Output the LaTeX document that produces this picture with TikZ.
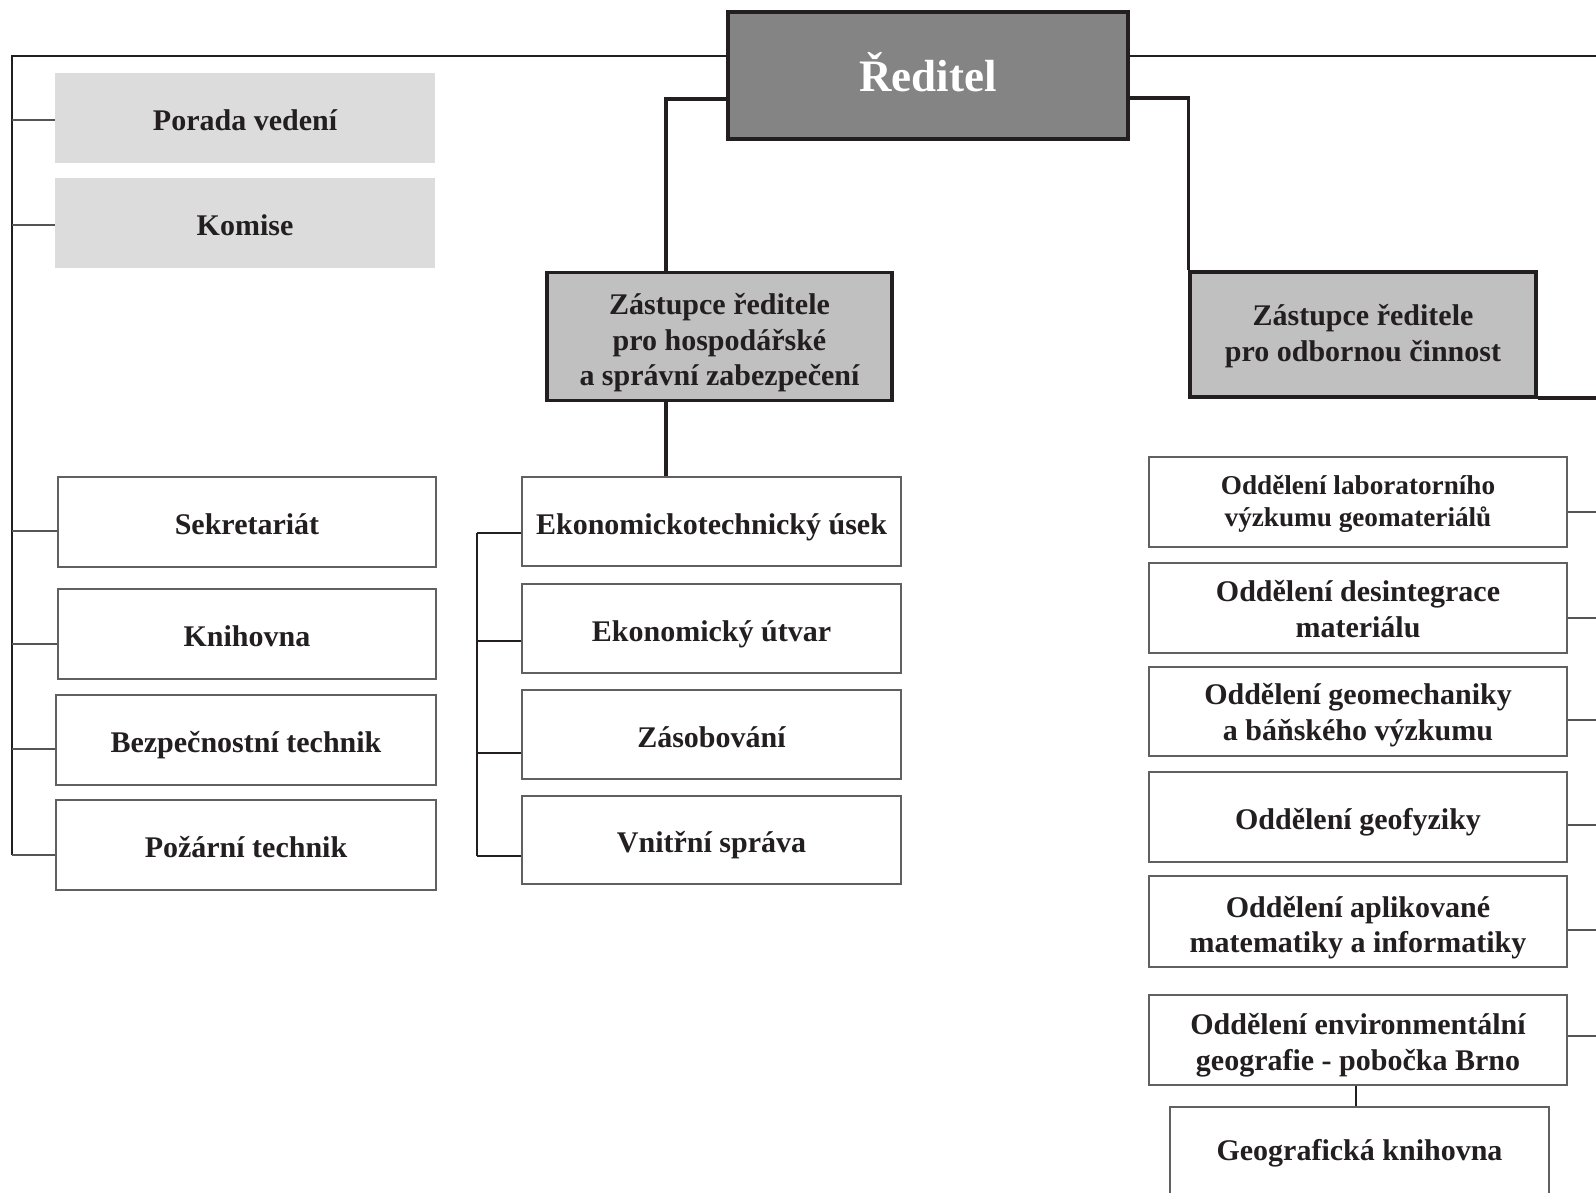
\documentclass[tikz,border=0pt]{standalone}
\usepackage{fontspec}
\setmainfont{Liberation Serif}
\definecolor{linec}{HTML}{231F20}
\definecolor{stubc}{HTML}{555555}
\definecolor{unitc}{HTML}{606060}
\definecolor{headc}{HTML}{848484}
\definecolor{depc}{HTML}{C0C0C0}
\definecolor{councilc}{HTML}{DCDCDC}
\begin{document}
\begin{tikzpicture}[x=0.5pt,y=-0.5pt,
  wh/.style 2 args={minimum width=#1*0.5pt, minimum height=#2*0.5pt},
  struts/.style 2 args={execute at begin node={\rule{0pt}{#1pt}},
    execute at end node={\rule[-#2pt]{0pt}{#2pt}}},
  basebox/.style={inner sep=0pt, align=center, text=linec, anchor=center},
  txt/.style={font=\bfseries\fontsize{15}{17.8}\selectfont, struts={16}{3.5}},
  multi/.style={struts={#1}{3.5}},
  txtsmall/.style={font=\bfseries\fontsize{13.6}{15.9}\selectfont},
  headbox/.style={basebox, fill=headc, draw=linec, line width=1.7pt, text=white,
    font=\bfseries\fontsize{22.5}{26}\selectfont, struts={22}{6}},
  depbox/.style={basebox, txt, fill=depc, draw=linec, line width=1.6pt},
  councilbox/.style={basebox, txt, fill=councilc, draw=none},
  unitbox/.style={basebox, txt, fill=white, draw=unitc, line width=0.85pt},
  mainline/.style={draw=linec, line width=1.2pt},
  depline/.style={draw=linec, line width=1.7pt},
  midline/.style={draw=linec, line width=0.85pt},
  stubline/.style={draw=stubc, line width=0.8pt}]
\clip (0,0) rectangle (1596,1193);
\useasboundingbox (0,0) rectangle (1596,1193);

% head
\node[headbox, wh={400}{127}] (reditel) at (928,75.5) {Ředitel};

% councils
\node[councilbox, wh={380}{90}] (porada) at (245,117.8) {Porada vedení};
\node[councilbox, wh={380}{90}] (komise) at (245,223) {Komise};

% deputies
\node[depbox, multi=53, wh={345}{128}] (zhosp) at (719.5,336.3)
  {Zástupce ředitele\\pro hospodářské\\a správní zabezpečení};
\node[depbox, multi=30.3, wh={346}{125}] (zodb) at (1363,334.5)
  {Zástupce ředitele\\pro odbornou činnost};

% left column
\node[unitbox, wh={378}{90}] (sekr) at (247,521.8) {Sekretariát};
\node[unitbox, wh={378}{90}] (knih) at (247,634) {Knihovna};
\node[unitbox, wh={380}{90}] (bezp) at (246,740) {Bezpečnostní technik};
\node[unitbox, wh={380}{90}] (pozar) at (246,845) {Požární technik};

% middle column
\node[unitbox, wh={379}{89}] (ekt) at (711.5,521.5) {Ekonomickotechnický úsek};
\node[unitbox, wh={379}{89}] (eku) at (711.5,628.5) {Ekonomický útvar};
\node[unitbox, wh={379}{89}] (zas) at (711.5,734.5) {Zásobování};
\node[unitbox, wh={379}{88}] (vnit) at (711.5,840) {Vnitřní správa};

% right column
\node[unitbox, txtsmall, multi=27.7, wh={418}{90}] (o1) at (1358,502)
  {Oddělení laboratorního\\výzkumu geomateriálů};
\node[unitbox, multi=32.7, wh={418}{90}] (o2) at (1358,608) {Oddělení desintegrace\\materiálu};
\node[unitbox, multi=32, wh={418}{89}] (o3) at (1358,711.5) {Oddělení geomechaniky\\a báňského výzkumu};
\node[unitbox, wh={418}{90}] (o4) at (1358,817) {Oddělení geofyziky};
\node[unitbox, multi=34.8, wh={418}{91}] (o5) at (1358,921.5) {Oddělení aplikované\\matematiky a informatiky};
\node[unitbox, multi=33.5, wh={418}{90}] (o6) at (1358,1040) {Oddělení environmentální\\geografie - pobočka Brno};
\node[unitbox, struts={16}{7.5}, wh={379}{90}] (o7) at (1359.5,1152) {Geografická knihovna};

% helper coordinates
\coordinate (Lbot) at (12,855);
\coordinate (Rtop) at (1600,56);
\coordinate (Redge) at (1600,0);
\coordinate (Mtop) at (477,533);
\coordinate (Mbot) at (477,856);

% main frame lines
\draw[mainline] ([yshift=9.75pt]reditel.west) -| (Lbot);
\draw[mainline] ([yshift=9.75pt]reditel.east) -- (Rtop);

% deputy connectors
\draw[depline] ([yshift=-11.75pt]reditel.west) -| ([xshift=-26.75pt]zhosp.north);
\draw[depline] ([xshift=-26.75pt]zhosp.south) -- ([xshift=-22.75pt]ekt.north);
\draw[depline] ([yshift=-11.25pt]reditel.east) -| (zodb.north west);
\draw[depline] ([yshift=0.4pt]zodb.south east) -- ([yshift=0.4pt]zodb.south east -| Redge);

% left stubs
\foreach \n/\s in {porada/-1.1, komise/-1, sekr/-4.6, knih/-4.9, bezp/-4.5, pozar/-5} {
  \coordinate (p\n) at ([yshift=\s pt]\n.west);
  \draw[stubline] (p\n) -- (p\n -| Lbot);
}

% middle group
\draw[midline] (Mtop) -- (Mbot);
\foreach \n/\s in {ekt/-5.75, eku/-6.1, zas/-9.25, vnit/-8} {
  \coordinate (q\n) at ([yshift=\s pt]\n.west);
  \draw[midline] (q\n) -- (q\n -| Mtop);
}

% right stubs
\foreach \n/\s in {o1/-5, o2/-5, o3/-4.25, o4/-4, o5/-4.25, o6/2} {
  \coordinate (r\n) at ([yshift=\s pt]\n.east);
  \draw[stubline] (r\n) -- (r\n -| Redge);
}
\draw[midline] ([xshift=-1pt]o6.south) -- ([xshift=-1.75pt]o7.north);
\end{tikzpicture}
\end{document}
